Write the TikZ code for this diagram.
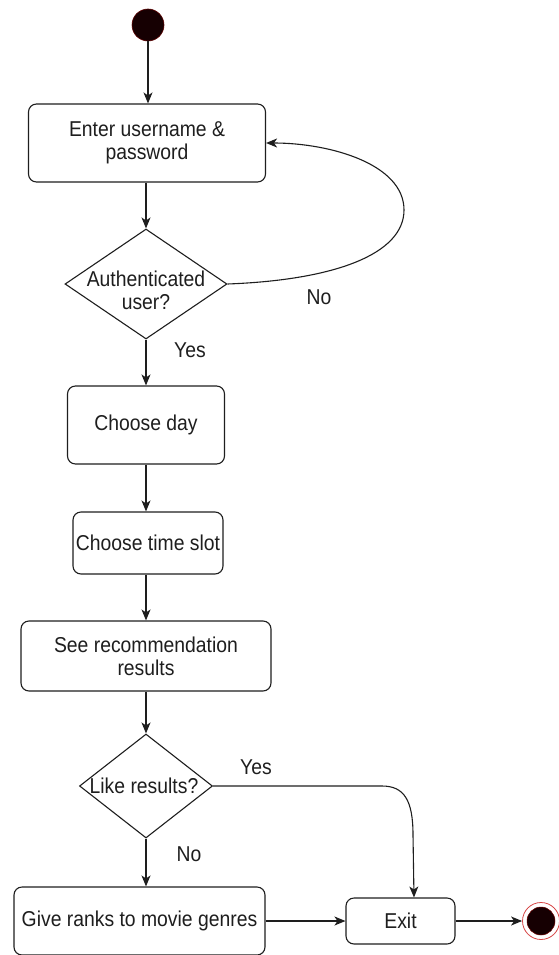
\documentclass[tikz,border=0pt]{standalone}
\usepackage{fontspec}
\setmainfont[FakeStretch=0.9]{Liberation Sans}
\usetikzlibrary{arrows.meta,shapes.geometric}

\definecolor{ink}{RGB}{30,30,30}
\definecolor{startfill}{RGB}{22,0,2}
\definecolor{ringred}{RGB}{215,70,70}

\tikzset{
  every node/.style={font=\fontsize{21.5}{23}\selectfont, text=ink},
  box/.style={draw=ink, line width=1.1pt, rounded corners=8pt, fill=white,
              align=center, inner sep=2pt},
  decision/.style={draw=ink, line width=1.1pt, diamond, inner sep=0pt, fill=white},
  flow/.style={draw=ink, line width=1.1pt, -{Stealth[length=11pt,width=9pt,inset=3pt]}},
  lbl/.style={inner sep=0pt, align=center}
}

\begin{document}
\begin{tikzpicture}[x=1pt, y=-1pt]
\useasboundingbox (0,0) rectangle (558,955);

% initial state
\node[circle, fill=startfill, draw={rgb,255:red,90;green,0;blue,0}, line width=0.6pt,
      minimum size=32pt, inner sep=0pt] (start) at (148,25) {};

% activities and decisions
\node[box, minimum width=237pt, minimum height=78pt] (enter) at (147,143)
  {Enter username \&\\password};
\node[decision, minimum width=162pt, minimum height=110pt] (auth) at (146,284) {};
\node[lbl] (authtxt) at (146,290) {Authenticated\\user?};

\node[box, minimum width=157pt, minimum height=78pt] (day) at (146,425) {Choose day};
\node[box, minimum width=150pt, minimum height=62pt, inner sep=1pt] (slot) at (148,543)
  {Choose time slot};
\node[box, minimum width=250pt, minimum height=70pt] (rec) at (146,656)
  {See recommendation\\results};
\node[decision, minimum width=133pt, minimum height=104pt] (like) at (146,786) {};
\node[lbl] (liketxt) at (144,786) {Like results?};

\node[box, minimum width=251pt, minimum height=68pt] (rank) at (139.5,921)
  {Give ranks to movie genres};
\node[box, minimum width=109pt, minimum height=46pt] (exit) at (400.5,921) {Exit};

% final state
\node[circle, draw=ringred, line width=0.8pt, fill=white,
      minimum size=37pt, inner sep=0pt] (final) at (541,921) {};
\node[circle, fill=startfill, draw={rgb,255:red,110;green,0;blue,0}, line width=0.5pt,
      minimum size=28pt, inner sep=0pt] (finaldot) at (final) {};

% connectors
\draw[flow] (start) -- (start |- enter.north);
\draw[flow] (enter.south -| auth.north) -- (auth.north);
\draw[flow] (auth.east)
  .. controls (335,280) and (404,254) .. (404,210)
  .. controls (404,164) and (330,143) .. (enter.east);
\node[lbl] (no1) at (319,297) {No};

\draw[flow] (auth.south) -- (auth.south |- day.north);
\node[lbl] (yes1) at (190,350) {Yes};

\draw[flow] (day.south) -- (day.south |- slot.north);
\draw[flow] (slot.south -| rec.north) -- (rec.north);
\draw[flow] (rec.south) -- (like.north);

\coordinate (exitin) at ([xshift=13.5pt]exit.north);
\draw[flow] (like.east) -- (382,786)
  .. controls (404,786) and (413,800) .. (413,835) -- (exitin);
\node[lbl] (yes2) at (256,767) {Yes};

\draw[flow] (like.south) -- (like.south |- rank.north);
\node[lbl] (no2) at (189,854) {No};

\draw[flow] (rank.east) -- (exit.west);
\draw[flow] (exit.east) -- (final.west);
\end{tikzpicture}
\end{document}
